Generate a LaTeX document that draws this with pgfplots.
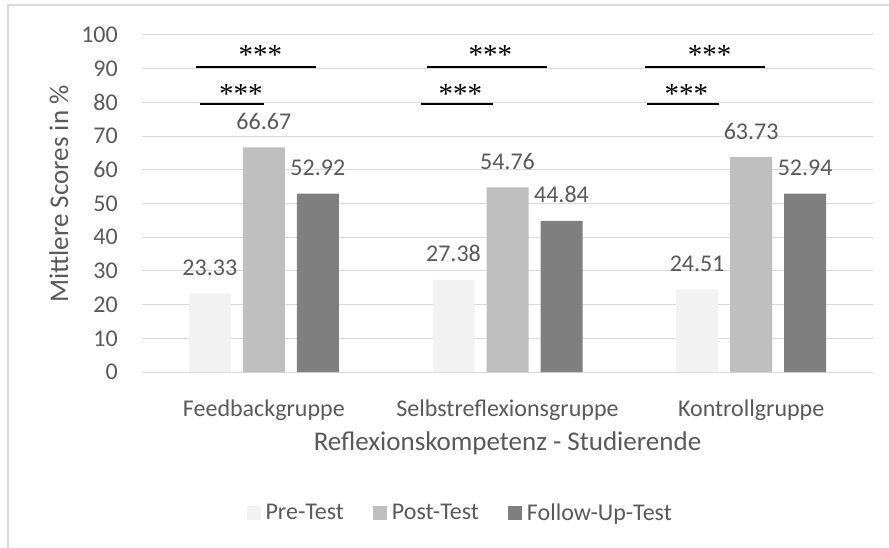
\documentclass[border=0pt]{standalone}
\usepackage{pgfplots}
\pgfplotsset{compat=1.18}
\usepackage{fontspec}
\setmainfont{Carlito}
\newfontfamily\starfont{Liberation Serif}
\definecolor{txt}{HTML}{595959}
\definecolor{gridc}{HTML}{D9D9D9}
\definecolor{preC}{HTML}{F2F2F2}
\definecolor{postC}{HTML}{BFBFBF}
\definecolor{fupC}{HTML}{7F7F7F}
\newcommand{\stars}{\fontsize{29}{32}\selectfont\starfont ***}
\begin{document}
\begin{tikzpicture}
\useasboundingbox (0,0) rectangle (889pt,-548pt);
\draw[gridc, line width=1.5pt] (8pt,-560pt) -- (8pt,-5pt) -- (900pt,-5pt);
\begin{axis}[
  at={(142pt,-372pt)}, anchor=south west,
  scale only axis, width=731pt, height=337pt,
  ybar=12pt, bar width=42pt,
  xmin=-0.5, xmax=2.5, ymin=0, ymax=100,
  enlarge x limits=false, clip=false,
  xtick={0,1,2},
  xticklabels={Feedbackgruppe, Selbstreflexionsgruppe, Kontrollgruppe},
  ytick={0,10,...,100},
  ymajorgrids, grid style={gridc, line width=1pt},
  axis line style={draw=none}, tick style={draw=none},
  /pgf/number format/assume math mode=true,
  font=\fontsize{24}{28}\selectfont, text=txt,
  xticklabel style={anchor=base, inner sep=0pt, yshift=-40pt},
  yticklabel style={anchor=east, inner sep=0pt, xshift=-24pt},
  xlabel={Reflexionskompetenz - Studierende},
  xlabel style={at={(axis description cs:0.5,0)}, anchor=base, inner sep=0pt, yshift=-78pt, font=\fontsize{27}{30}\selectfont},
  ylabel={Mittlere Scores in \%},
  ylabel style={at={(axis description cs:-0.1012,0.528)}, anchor=base, inner sep=0pt, font=\fontsize{27}{30}\selectfont},
  nodes near coords,
  every node near coord/.append style={anchor=base, inner sep=0pt, yshift=18pt, text=txt,
    /pgf/number format/.cd, fixed, fixed zerofill, precision=2},
  legend columns=-1,
  legend image code/.code={\fill[#1] (0pt,-7pt) rectangle (14pt,7pt);},
  legend style={at={(rel axis cs:0.434,-0.418)}, anchor=center, draw=none, fill=none,
    inner sep=0pt, nodes={inner sep=0pt, text=txt},
    /tikz/every odd column/.append style={column sep=5pt},
    /tikz/every even column/.append style={column sep=29pt}},
]
\addplot[fill=preC, draw=none] coordinates {(0,23.33) (1,27.38) (2,24.51)};
\addplot[fill=postC, draw=none] coordinates {(0,66.67) (1,54.76) (2,63.73)};
\addplot[fill=fupC, draw=none] coordinates {(0,52.92) (1,44.84) (2,52.94)};
\legend{Pre-Test, Post-Test, Follow-Up-Test}

% significance brackets
\addplot[black, line width=2pt, nodes near coords={}, forget plot, sharp plot, bar shift=0pt] coordinates {(-0.278,90.5) (0.214,90.5)};
\addplot[black, line width=2pt, nodes near coords={}, forget plot, sharp plot, bar shift=0pt] coordinates {(-0.262,79.5) (0.001,79.5)};
\addplot[black, line width=2pt, nodes near coords={}, forget plot, sharp plot, bar shift=0pt] coordinates {(0.670,90.5) (1.162,90.5)};
\addplot[black, line width=2pt, nodes near coords={}, forget plot, sharp plot, bar shift=0pt] coordinates {(0.645,79.5) (0.940,79.5)};
\addplot[black, line width=2pt, nodes near coords={}, forget plot, sharp plot, bar shift=0pt] coordinates {(1.564,90.5) (2.056,90.5)};
\addplot[black, line width=2pt, nodes near coords={}, forget plot, sharp plot, bar shift=0pt] coordinates {(1.572,79.5) (1.868,79.5)};

\node[anchor=base, inner sep=0pt, text=black] at (axis cs:-0.014,91.2) {\stars};
\node[anchor=base, inner sep=0pt, text=black] at (axis cs:-0.094,79.8) {\stars};
\node[anchor=base, inner sep=0pt, text=black] at (axis cs:0.930,91.2) {\stars};
\node[anchor=base, inner sep=0pt, text=black] at (axis cs:0.807,79.8) {\stars};
\node[anchor=base, inner sep=0pt, text=black] at (axis cs:1.829,91.2) {\stars};
\node[anchor=base, inner sep=0pt, text=black] at (axis cs:1.734,79.8) {\stars};
\end{axis}
\end{tikzpicture}
\end{document}
